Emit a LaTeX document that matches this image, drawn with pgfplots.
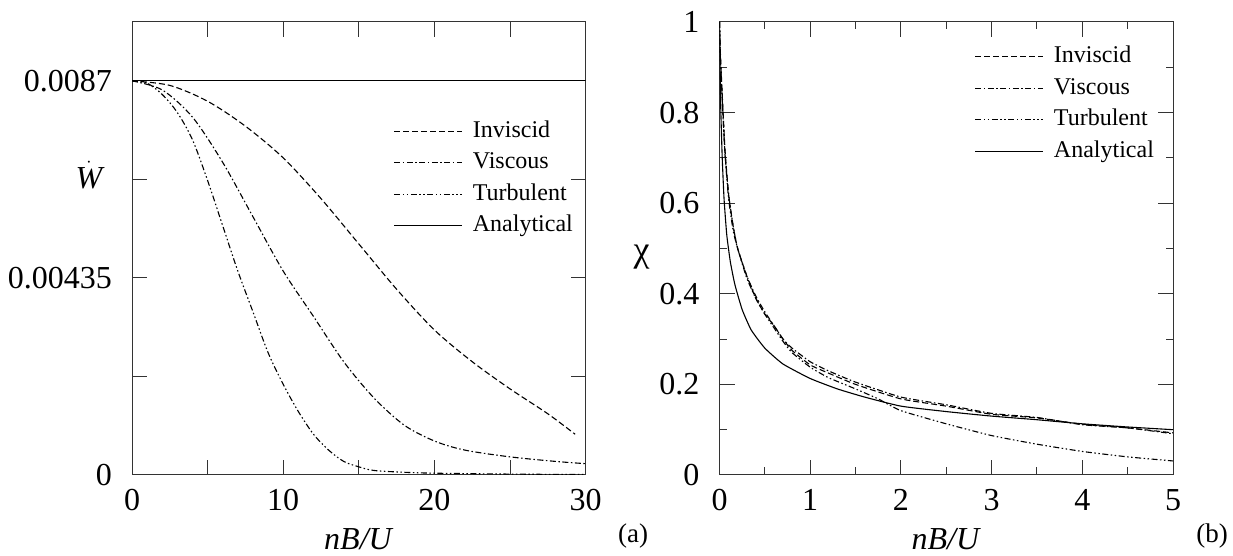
\documentclass[border=0pt]{standalone}
\usepackage{fontspec}
\setmainfont{Liberation Serif}
\usepackage{pgfplots}
\pgfplotsset{compat=1.18}
\pgfplotsset{legend image code/.code={\draw[#1] (0pt,0pt) -- (68pt,0pt);}}
\pgfplotsset{
  common/.style={
    scale only axis,
    height=453pt,
    anchor=south west,
    axis line style={black!80, line width=1pt},
    tick style={black!80, line width=1pt},
    tick align=inside,
    major tick length=15pt,
    minor tick length=7.5pt,
    tick label style={font=\fontsize{32}{38}\selectfont},
    yticklabel style={inner sep=0pt, xshift=-20pt},
    xticklabel style={inner sep=0pt, yshift=-14pt},
    every axis x label/.style={at={(axis description cs:0.5,0)}, anchor=center, yshift=-64pt, font=\fontsize{32}{38}\selectfont},
    legend cell align=left,
    legend style={draw=none, fill=none, inner sep=0pt, row sep=9.5pt, column sep=10pt,
      font=\fontsize{24}{28}\selectfont, anchor=north west,
      nodes={inner sep=0pt, text height=17pt, text depth=5pt}},
    scaled ticks=false,
  },
  inv/.style={black, line width=1.1pt, dash pattern=on 6pt off 3pt},
  visc/.style={black, line width=1.1pt, dash pattern=on 6pt off 2.5pt on 1.5pt off 2.5pt},
  turb/.style={black, line width=1.1pt, dash pattern=on 6pt off 2.5pt on 1.5pt off 2.5pt on 1.5pt off 2.5pt},
  ana/.style={black, line width=1.1pt, solid},
}
\begin{document}
\begin{tikzpicture}[x=1pt,y=1pt]
\begin{axis}[common, at={(132pt,81pt)}, width=453.7pt,
  xmin=0, xmax=30, ymin=0, ymax=0.01,
  xtick={0,5,...,30}, xticklabels={0,,10,,20,,30},
  ytick={0,0.002175,0.00435,0.006525,0.0087}, yticklabels={0,,0.00435,,0.0087},
  every axis y label/.style={at={(axis description cs:0,0.662)}, anchor=center, xshift=-43pt, font=\fontsize{32}{38}\selectfont},
  ylabel={$\dot{\mathit{W}}$}, xlabel={\textit{nB/U}},
  legend style={at={(axis description cs:0.5766,0.7837)}}]
\addplot[inv, smooth, tension=0.5] coordinates {(0,0.0087)(2.5,0.0086)(5,0.00825)(7.5,0.0077)(10,0.0070)(12.5,0.0061)(15,0.0051)(17.5,0.0041)(20,0.0032)(22.5,0.0025)(25,0.0019)(27.5,0.00135)(29.3,0.0009)};
\addlegendentry{Inviscid}
\addplot[visc, smooth, tension=0.5] coordinates {(0,0.0087)(2,0.0085)(4,0.0079)(6,0.0069)(8,0.0057)(10,0.0045)(12,0.0035)(14,0.0025)(16,0.0017)(18,0.0011)(20,0.00075)(22,0.00055)(25,0.0004)(28,0.0003)(30,0.00025)};
\addlegendentry{Viscous}
\addplot[turb, smooth, tension=0.5] coordinates {(0,0.0087)(1,0.00865)(2,0.0084)(3,0.0080)(4,0.0074)(5,0.0065)(6,0.0055)(7,0.0045)(8,0.0036)(9,0.0027)(10,0.0020)(11,0.0014)(12,0.0009)(13,0.00055)(14,0.0003)(15,0.00018)(16,0.0001)(18,0.00006)(20,0.00004)(25,0.00002)(30,0.00001)};
\addlegendentry{Turbulent}
\addplot[ana] coordinates {(0,0.0087)(30,0.0087)};
\addlegendentry{Analytical}
\end{axis}
\begin{axis}[common, at={(719.5pt,81pt)}, width=453.5pt,
  xmin=0, xmax=5, ymin=0, ymax=1,
  xtick={0,1,...,5}, xticklabels={0,1,2,3,4,5}, minor xtick={0.5,1.5,...,4.5},
  ytick={0,0.2,0.4,0.6,0.8,1}, yticklabels={0,0.2,0.4,0.6,0.8,1}, minor ytick={0.1,0.3,...,0.9},
  every axis y label/.style={at={(axis description cs:0,0.48)}, anchor=center, xshift=-78pt, font=\fontsize{36}{42}\selectfont},
  ylabel={χ}, xlabel={\textit{nB/U}},
  legend style={at={(axis description cs:0.5627,0.9477)}}]
\addplot[inv, smooth, tension=0.3] coordinates {(0,1)(0.01,0.93)(0.03,0.84)(0.06,0.72)(0.1,0.62)(0.15,0.55)(0.2,0.5)(0.3,0.44)(0.4,0.39)(0.5,0.355)(0.6,0.33)(0.7,0.3)(0.8,0.275)(1.0,0.243)(1.2,0.225)(1.5,0.2)(2.0,0.168)(2.5,0.152)(3.0,0.134)(3.5,0.126)(4.0,0.112)(4.5,0.104)(5.0,0.093)};
\addlegendentry{Inviscid}
\addplot[visc, smooth, tension=0.3] coordinates {(0,1)(0.01,0.92)(0.03,0.83)(0.06,0.71)(0.1,0.62)(0.15,0.55)(0.2,0.5)(0.3,0.44)(0.4,0.395)(0.5,0.36)(0.6,0.33)(0.7,0.3)(0.8,0.28)(1.0,0.25)(1.2,0.23)(1.5,0.205)(2.0,0.172)(2.5,0.155)(3.0,0.136)(3.5,0.127)(4.0,0.111)(4.5,0.104)(5.0,0.091)};
\addlegendentry{Viscous}
\addplot[turb, smooth, tension=0.3] coordinates {(0,1)(0.01,0.92)(0.03,0.83)(0.06,0.71)(0.1,0.61)(0.15,0.54)(0.2,0.5)(0.3,0.435)(0.4,0.39)(0.5,0.355)(0.6,0.325)(0.7,0.295)(0.8,0.27)(1.0,0.238)(1.2,0.215)(1.5,0.19)(1.75,0.168)(2.0,0.142)(2.5,0.113)(3.0,0.087)(3.5,0.068)(4.0,0.052)(4.5,0.04)(5.0,0.031)};
\addlegendentry{Turbulent}
\addplot[ana, smooth, tension=0.3] coordinates {(0,1)(0.005,0.92)(0.015,0.8)(0.03,0.7)(0.05,0.61)(0.08,0.53)(0.12,0.47)(0.17,0.42)(0.25,0.365)(0.35,0.32)(0.5,0.28)(0.7,0.245)(1.0,0.213)(1.3,0.19)(1.6,0.172)(2.0,0.152)(2.5,0.14)(3.0,0.13)(3.5,0.122)(4.0,0.113)(4.5,0.106)(5.0,0.1)};
\addlegendentry{Analytical}
\end{axis}
\node[font=\fontsize{27}{32}\selectfont] at (633,20) {(a)};
\node[font=\fontsize{27}{32}\selectfont] at (1212,20) {(b)};
\pgfresetboundingbox
\path[use as bounding box] (0,0) rectangle (1233,556);
\end{tikzpicture}
\end{document}
